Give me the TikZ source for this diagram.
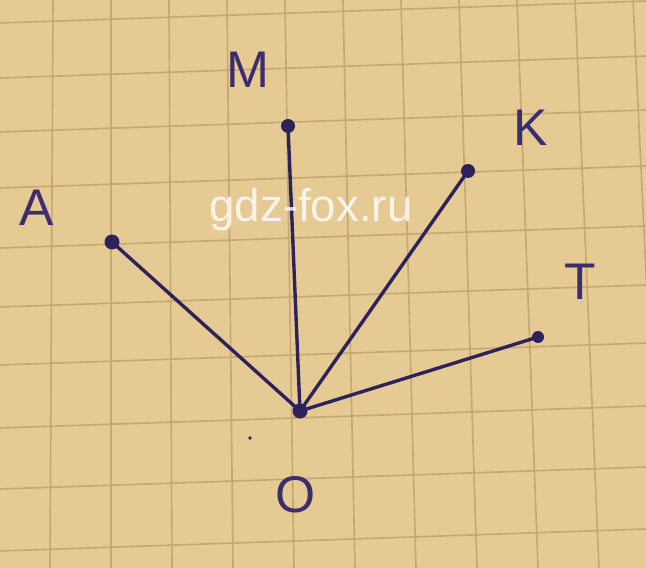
\documentclass[tikz,border=0pt]{standalone}
\usepackage{fontspec}
\setmainfont{Liberation Sans}
\definecolor{paper}{RGB}{229,202,148}
\definecolor{gridline}{RGB}{198,168,114}
\definecolor{ink}{RGB}{45,35,90}
\definecolor{letterink}{RGB}{60,45,110}
\begin{document}
\begin{tikzpicture}[x=0.03cm,y=-0.03cm,
  ray/.style={ink,line width=2.9pt,line cap=round},
  lbl/.style={letterink,font=\fontsize{44}{48}\selectfont},
  sq/.style={gridline,line width=1.4pt}]

  % paper
  \fill[paper] (0,0) rectangle (646,568);
  \useasboundingbox (0,0) rectangle (646,568);
  \begin{scope}
    \clip (0,0) rectangle (646,568);
    \foreach \k in {-2,...,10}
      \draw[sq] ({111+58*\k},0) -- ({111+61*\k},568);
    \foreach \y in {23,78,132,188,248,307,365,428,489,551}
      \draw[sq] (0,\y) -- (646,{\y-22});
  \end{scope}

  % points
  \coordinate (O) at (300,411);
  \coordinate (A) at (112,242);
  \coordinate (M) at (288,126);
  \coordinate (K) at (468,171);
  \coordinate (T) at (538,337);

  \draw[ray] (O) -- (A);
  \draw[ray] (O) -- (M);
  \draw[ray] (O) -- (K);
  \draw[ray] (O) -- (T);

  \fill[ink] (A) circle(7.5);
  \fill[ink] (M) circle(7);
  \fill[ink] (K) circle(7);
  \fill[ink] (T) circle(6);
  \fill[ink] (O) circle(7.5);
  \fill[ink] (250,438) circle(1.8);

  \node[lbl] (labA) at (37,208) {A};
  \node[lbl] (labM) at (248,70) {M};
  \node[lbl] (labK) at (531,128) {K};
  \node[lbl] (labT) at (580,282) {T};
  \node[lbl] (labO) at (296,495) {O};

  % watermark
  \node[white,opacity=0.8,font=\fontsize{39}{42}\selectfont] (wm) at (311,210) {gdz-fox.ru};
\end{tikzpicture}
\end{document}
